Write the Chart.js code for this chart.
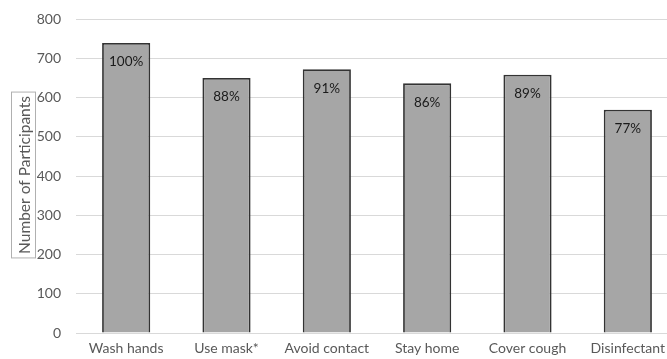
<!DOCTYPE html>
<html lang="en">
<head>
    <meta charset="UTF-8">
    <title>Participants by Behaviour</title>
    <script src="https://cdn.jsdelivr.net/npm/chart.js"></script>
    <style>
        html, body { margin: 0; padding: 0; background: #fff; overflow: hidden; }
        #wrap { width: 680px; height: 359px; position: relative; }
    </style>
</head>
<body>
    <div id="wrap"><canvas id="barChart"></canvas></div>

    <script>
        const categories = ['Wash hands', 'Use mask*', 'Avoid contact', 'Stay home', 'Cover cough', 'Disinfectant'];
        const participants = [739, 650, 672, 636, 658, 569];
        const percentLabels = ['100%', '88%', '91%', '86%', '89%', '77%'];
        const yTicks = [0, 100, 200, 300, 400, 500, 600, 700, 800];
        const yTitle = 'Number of Participants';

        const FONT = 'Lato, "Open Sans", sans-serif';

        // percent text just inside the top of each bar
        const barLabels = {
            id: 'barLabels',
            afterDatasetsDraw(chart) {
                const ctx = chart.ctx;
                const meta = chart.getDatasetMeta(0);
                ctx.save();
                ctx.font = '13.5px ' + FONT;
                ctx.fillStyle = '#1a1a1a';
                ctx.textAlign = 'center';
                ctx.textBaseline = 'middle';
                meta.data.forEach((bar, i) => {
                    ctx.fillText(percentLabels[i], bar.x, bar.y + 19);
                });
                ctx.restore();
            }
        };

        // rotated axis title with a thin box around it
        const boxedTitle = {
            id: 'boxedTitle',
            afterDraw(chart) {
                const ctx = chart.ctx;
                ctx.save();
                ctx.font = '15.5px ' + FONT;
                const w = ctx.measureText(yTitle).width;
                const cx = 23.5, cy = 175;
                ctx.strokeStyle = '#b0b0b0';
                ctx.lineWidth = 1;
                ctx.strokeRect(11.5, cy - w / 2 - 4, 24, w + 8);
                ctx.translate(cx, cy);
                ctx.rotate(-Math.PI / 2);
                ctx.fillStyle = '#595959';
                ctx.textAlign = 'center';
                ctx.textBaseline = 'middle';
                ctx.fillText(yTitle, 0, 1);
                ctx.restore();
            }
        };

        new Chart(document.getElementById('barChart').getContext('2d'), {
            type: 'bar',
            data: {
                labels: categories,
                datasets: [{
                    data: participants,
                    backgroundColor: '#a6a6a6',
                    borderColor: '#333333',
                    borderWidth: 1.8,
                    categoryPercentage: 1,
                    barPercentage: 0.48
                }]
            },
            options: {
                responsive: true,
                maintainAspectRatio: false,
                animation: false,
                layout: { padding: { top: 19, right: 2, left: 0, bottom: 0 } },
                plugins: {
                    legend: { display: false },
                    tooltip: { enabled: false }
                },
                scales: {
                    x: {
                        grid: { display: false, drawTicks: false },
                        border: { display: false },
                        ticks: { color: '#595959', font: { family: FONT, size: 14 }, padding: 7, maxRotation: 0 },
                        afterFit: s => { s.height = 26; }
                    },
                    y: {
                        min: 0,
                        max: 800,
                        afterBuildTicks: s => { s.ticks = yTicks.map(v => ({ value: v })); },
                        // invisible tick marks keep the labels away from the plot
                        grid: { color: '#d9d9d9', lineWidth: 1, drawTicks: true, tickLength: 6, tickColor: 'rgba(0,0,0,0)' },
                        border: { display: false },
                        ticks: { color: '#595959', font: { family: FONT, size: 14 }, padding: 9 },
                        afterFit: s => { s.width = 76; }
                    }
                }
            },
            plugins: [barLabels, boxedTitle]
        });
    </script>
</body>
</html>
